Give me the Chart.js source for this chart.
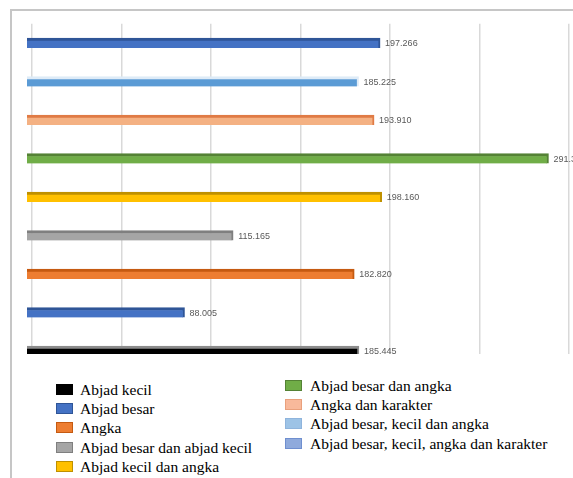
<!DOCTYPE html>
<html>
<head>
<meta charset="utf-8">
<script src="https://cdn.jsdelivr.net/npm/chart.js@4/dist/chart.umd.min.js"></script>
<style>
  html, body { margin: 0; padding: 0; background: #fff; }
  body { width: 573px; height: 478px; position: relative; overflow: hidden; }
  #frame { position: absolute; left: 10px; top: 9px; width: 570px; height: 480px;
           border-top: 2px solid #c6c6c6; border-left: 2px solid #c6c6c6; }
  #wrap { position: absolute; left: 12px; top: 11px; width: 561px; height: 343px; overflow: hidden; }
  .leg { position: absolute; font-family: 'Liberation Serif', 'Times New Roman', Times, 'DejaVu Serif', serif;
         font-size: 15.5px; color: #000; white-space: nowrap; line-height: 19px; }
  .leg i { position: absolute; width: 15px; height: 9px; border: 1px solid; top: 4px; }
</style>
</head>
<body>
<div id="frame"></div>
<div id="wrap"><canvas id="chart" width="561" height="368"></canvas></div>
<div id="legend"></div>
<script>
// series in legend order (bars run bottom -> top)
const labels = [
    'Abjad kecil',
    'Abjad besar',
    'Angka',
    'Abjad besar dan abjad kecil',
    'Abjad kecil dan angka',
    'Abjad besar dan angka',
    'Angka dan karakter',
    'Abjad besar, kecil dan angka',
    'Abjad besar, kecil, angka dan karakter'
];
const values = [185.445, 88.005, 182.820, 115.165, 198.160, 291.340, 193.910, 185.225, 197.266];
const barColors = ['#000000', '#4472C4', '#ED7D31', '#A5A5A5', '#FFC000', '#70AD47', '#F4B183', '#5B9BD5', '#4472C4'];
const edgeColors = ['#8c8c8c', '#2F5597', '#C55A11', '#7F7F7F', '#BF9000', '#548235', '#E07B45', '#DEEBF7', '#2F5597'];
const legendColors = ['#000000', '#4472C4', '#ED7D31', '#A5A5A5', '#FFC000', '#70AD47', '#F8B99B', '#9DC3E6', '#8FAADC'];
const legendEdges = ['#000000', '#2F5597', '#C55A11', '#7F7F7F', '#BF9000', '#548235', '#E9A07C', '#8FB4DC', '#6F8FCF'];
const gridTicks = [0, 50, 100, 150, 200, 250, 300];

function fmt(v) {
    return v.toFixed(3);
}

const valueLabels = {
    id: 'valueLabels',
    afterDatasetsDraw(chart) {
        const ctx = chart.ctx;
        const meta = chart.getDatasetMeta(0);
        ctx.save();
        ctx.font = '9px "Liberation Sans", sans-serif';
        ctx.fillStyle = '#595959';
        ctx.textBaseline = 'middle';
        meta.data.forEach((bar, i) => {
            ctx.fillText(fmt(values[i]), bar.x + 5, bar.y + 1);
        });
        ctx.restore();
    }
};

new Chart(document.getElementById('chart').getContext('2d'), {
    type: 'bar',
    data: {
        labels: labels,
        datasets: [{
            data: values,
            backgroundColor: barColors,
            borderColor: edgeColors,
            borderWidth: { top: 3, right: 2, bottom: 0, left: 0 },
            borderSkipped: false,
            barThickness: 10
        }]
    },
    options: {
        indexAxis: 'y',
        responsive: false,
        animation: false,
        layout: { padding: { left: 15, right: 4, top: 12.75, bottom: 8.75 } },
        plugins: { legend: { display: false }, tooltip: { enabled: false } },
        scales: {
            y: { display: false, reverse: true },
            x: {
                min: 0, max: 302.8,
                grid: { display: false },
                ticks: { display: false },
                border: { display: false },
                afterFit: a => { a.height = 0; }
            },
            x2: {
                position: 'bottom',
                min: -2.8, max: 300,
                grid: { color: '#d9d9d9', lineWidth: 1.5, drawTicks: false },
                ticks: { display: false },
                border: { display: false },
                afterBuildTicks: a => { a.ticks = gridTicks.map(v => ({ value: v })); },
                afterFit: a => { a.height = 0; }
            }
        }
    },
    plugins: [valueLabels]
});

// legend: two columns, filled top to bottom
const legend = document.getElementById('legend');
labels.forEach((name, i) => {
    const col2 = i >= 5;
    const row = col2 ? i - 5 : i;
    const d = document.createElement('div');
    d.className = 'leg';
    d.style.left = (col2 ? 310 : 80) + 'px';
    d.style.top = ((col2 ? 376 : 380) + row * 19.2) + 'px';
    const box = document.createElement('i');
    box.style.left = (col2 ? -25 : -24) + 'px';
    box.style.background = legendColors[i];
    box.style.borderColor = legendEdges[i];
    d.appendChild(box);
    d.appendChild(document.createTextNode(name));
    legend.appendChild(d);
});
</script>
</body>
</html>
